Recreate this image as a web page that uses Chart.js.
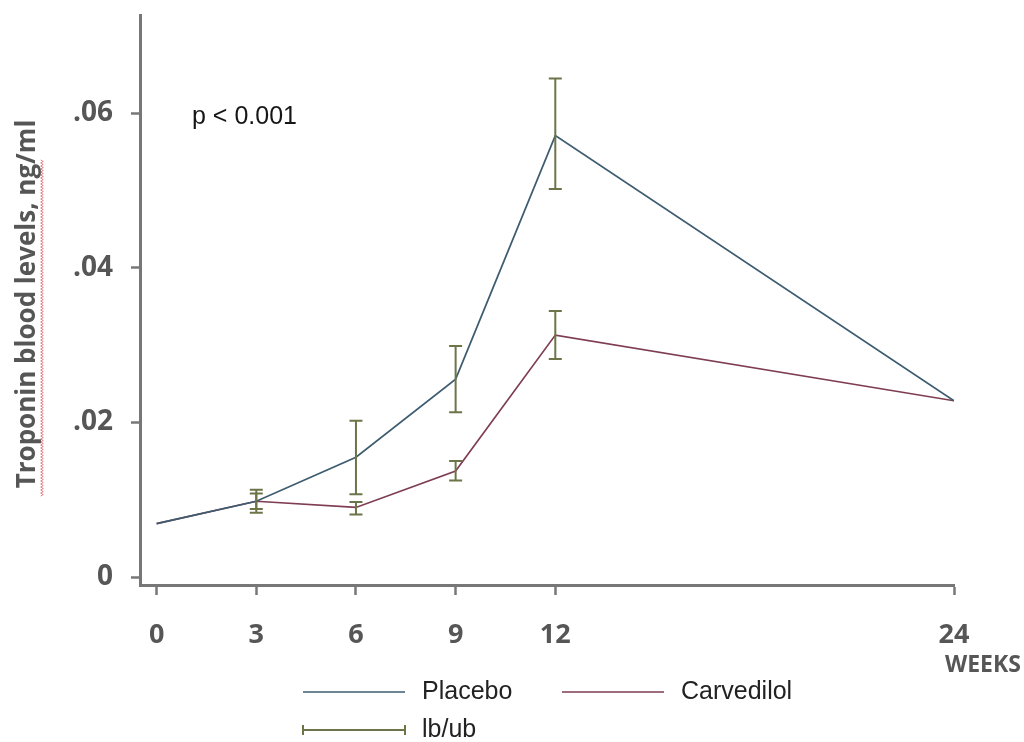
<!DOCTYPE html>
<html>
<head>
<meta charset="utf-8">
<script src="https://cdn.jsdelivr.net/npm/chart.js@4/dist/chart.umd.min.js"></script>
<style>
  html, body { margin: 0; padding: 0; background: #ffffff; }
  #wrap { width: 1024px; height: 742px; }
</style>
</head>
<body>
<div id="wrap"><canvas id="c" width="1024" height="742"></canvas></div>
<script>
// ---- data ----
const weeks = [0, 3, 6, 9, 12, 24];
const placebo = [0.0069, 0.0098, 0.0155, 0.0256, 0.0571, 0.0228];
const carvedilol = [0.0069, 0.0098, 0.0090, 0.0137, 0.0313, 0.0228];
const placeboLb = [null, 0.0083, 0.0107, 0.0213, 0.0502, null];
const placeboUb = [null, 0.0113, 0.0202, 0.0299, 0.0645, null];
const carvedilolLb = [null, 0.0088, 0.0081, 0.0125, 0.0282, null];
const carvedilolUb = [null, 0.0108, 0.0097, 0.0150, 0.0344, null];
const xTickValues = [0, 3, 6, 9, 12, 24];
const yTickValues = [0, 0.02, 0.04, 0.06];
const yTickLabels = ['0', '.02', '.04', '.06'];
const seriesLabels = ['Placebo', 'Carvedilol'];
const errorLabel = 'lb/ub';
const yTitle = 'Troponin blood levels, ng/ml';
const xUnit = 'WEEKS';
const pText = 'p < 0.001';

const colPlacebo = '#3e5c70';
const colCarv = '#7e3d50';
const colErr = '#6b7548';
const colAxis = '#777777';
const colTickText = '#565656';

const errorBarPlugin = {
  id: 'errorBars',
  afterDatasetsDraw(chart) {
    const ctx = chart.ctx;
    const xs = chart.scales.x, ys = chart.scales.y;
    const sets = [[placeboLb, placeboUb], [carvedilolLb, carvedilolUb]];
    ctx.save();
    ctx.strokeStyle = colErr;
    ctx.lineWidth = 2;
    sets.forEach(([lb, ub]) => {
      weeks.forEach((w, i) => {
        if (lb[i] == null || ub[i] == null) return;
        const x = xs.getPixelForValue(w);
        const y1 = ys.getPixelForValue(lb[i]);
        const y2 = ys.getPixelForValue(ub[i]);
        ctx.beginPath();
        ctx.moveTo(x, y1); ctx.lineTo(x, y2);
        ctx.moveTo(x - 6.5, y1); ctx.lineTo(x + 6.5, y1);
        ctx.moveTo(x - 6.5, y2); ctx.lineTo(x + 6.5, y2);
        ctx.stroke();
      });
    });
    ctx.restore();
  }
};

const decorPlugin = {
  id: 'decor',
  afterDraw(chart) {
    const ctx = chart.ctx;
    const xs = chart.scales.x;
    ctx.save();
    // y axis title
    ctx.translate(28, 304);
    ctx.rotate(-Math.PI / 2);
    ctx.fillStyle = colTickText;
    ctx.font = 'bold 26px "Open Sans"';
    ctx.textAlign = 'center';
    ctx.textBaseline = 'middle';
    ctx.fillText(yTitle, 0, 0);
    ctx.restore();

    // spell-check style wavy underline
    ctx.save();
    ctx.strokeStyle = 'rgba(215,80,95,0.7)';
    ctx.lineWidth = 1;
    ctx.beginPath();
    let first = true;
    for (let y = 160; y <= 497; y += 1.5) {
      const x = 42 + ((Math.round((y - 160) / 1.5) % 2) ? 1.3 : -1.3);
      if (first) { ctx.moveTo(x, y); first = false; } else ctx.lineTo(x, y);
    }
    ctx.stroke();
    ctx.restore();

    // WEEKS unit label
    ctx.save();
    ctx.fillStyle = colTickText;
    ctx.font = 'bold 23px "Open Sans"';
    ctx.textAlign = 'left';
    ctx.textBaseline = 'middle';
    ctx.fillText(xUnit, xs.getPixelForValue(24) - 9, 665);
    ctx.restore();

    // p value
    ctx.save();
    ctx.fillStyle = '#161616';
    ctx.font = '25px "Liberation Sans"';
    ctx.textAlign = 'left';
    ctx.textBaseline = 'middle';
    ctx.fillText(pText, 192, 117);
    ctx.restore();

    // legend
    ctx.save();
    ctx.font = '25px "Liberation Sans"';
    ctx.textAlign = 'left';
    ctx.textBaseline = 'middle';
    const items = [
      { x: 303, y: 692, color: colPlacebo, label: chart.data.datasets[0].label, caps: false },
      { x: 562, y: 692, color: colCarv, label: chart.data.datasets[1].label, caps: false },
      { x: 303, y: 730, color: colErr, label: errorLabel, caps: true }
    ];
    items.forEach(it => {
      ctx.strokeStyle = it.color;
      ctx.lineWidth = it.caps ? 2 : 1.6;
      ctx.beginPath();
      ctx.moveTo(it.x, it.y); ctx.lineTo(it.x + 102, it.y);
      if (it.caps) {
        ctx.moveTo(it.x, it.y - 5); ctx.lineTo(it.x, it.y + 5);
        ctx.moveTo(it.x + 102, it.y - 5); ctx.lineTo(it.x + 102, it.y + 5);
      }
      ctx.stroke();
      ctx.fillStyle = '#222222';
      ctx.fillText(it.label, it.x + 119, it.y);
    });
    ctx.restore();
  }
};

new Chart(document.getElementById('c'), {
  type: 'line',
  data: {
    datasets: [
      {
        label: seriesLabels[0],
        data: weeks.map((w, i) => ({ x: w, y: placebo[i] })),
        borderColor: colPlacebo,
        borderWidth: 1.7,
        pointRadius: 0,
        tension: 0,
        fill: false
      },
      {
        label: seriesLabels[1],
        data: weeks.map((w, i) => ({ x: w, y: carvedilol[i] })),
        borderColor: colCarv,
        borderWidth: 1.7,
        pointRadius: 0,
        tension: 0,
        fill: false
      }
    ]
  },
  options: {
    responsive: false,
    animation: false,
    devicePixelRatio: 1,
    layout: { padding: { top: 15, right: 70, left: 0, bottom: 0 } },
    plugins: {
      legend: { display: false },
      tooltip: { enabled: false }
    },
    scales: {
      x: {
        type: 'linear',
        min: -0.5,
        max: 24,
        afterBuildTicks(scale) { scale.ticks = xTickValues.map(v => ({ value: v })); },
        afterFit(scale) { scale.height = 157; scale.paddingLeft = 0; },
        ticks: {
          autoSkip: false,
          maxRotation: 0,
          padding: 24,
          color: colTickText,
          font: { family: 'Open Sans', weight: 'bold', size: 27 },
          callback: (v) => String(v)
        },
        grid: { drawOnChartArea: false, color: colAxis, tickLength: 10, tickWidth: 2.5 },
        border: { color: colAxis, width: 3 }
      },
      y: {
        type: 'linear',
        min: -0.00103,
        max: 0.0727,
        afterBuildTicks(scale) { scale.ticks = yTickValues.map(v => ({ value: v })); },
        afterFit(scale) { scale.width = 140; scale.paddingTop = 0; scale.paddingBottom = 0; },
        ticks: {
          padding: 18,
          color: colTickText,
          font: { family: 'Open Sans', weight: 'bold', size: 28 },
          callback: (v) => {
            const i = yTickValues.findIndex(t => Math.abs(t - v) < 1e-9);
            return i >= 0 ? yTickLabels[i] : '';
          }
        },
        grid: { drawOnChartArea: false, color: colAxis, tickLength: 9, tickWidth: 2.5 },
        border: { color: colAxis, width: 3 }
      }
    }
  },
  plugins: [errorBarPlugin, decorPlugin]
});
</script>
</body>
</html>
